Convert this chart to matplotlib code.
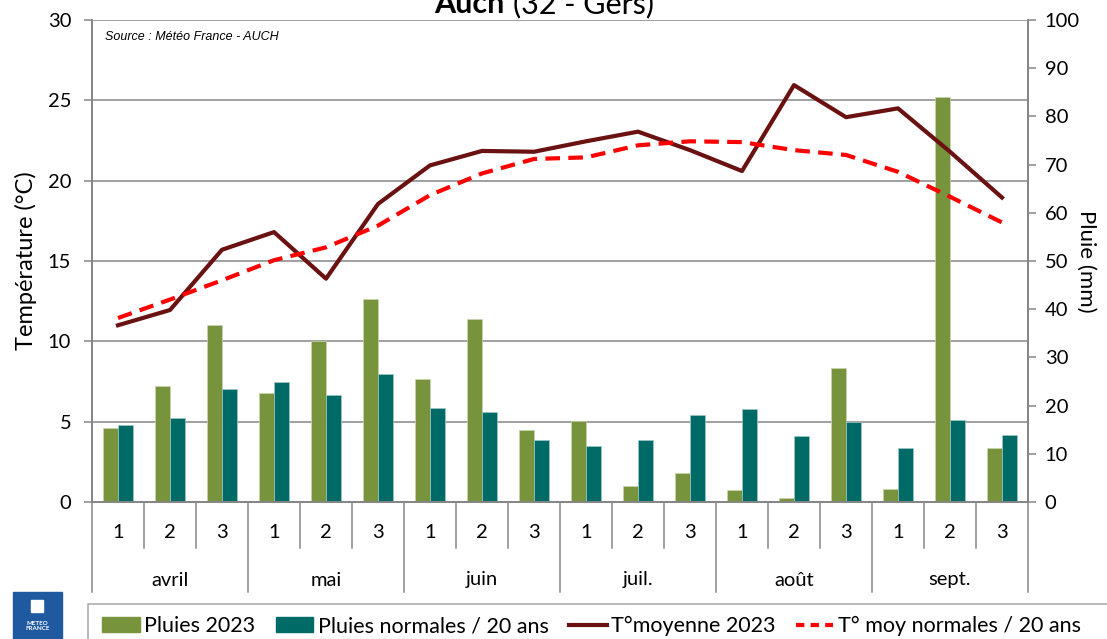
import matplotlib
matplotlib.use("Agg")
import matplotlib.pyplot as plt
import matplotlib.transforms as mtransforms
from matplotlib.patches import Rectangle, Patch
from matplotlib.lines import Line2D
import numpy as np

# decades (1, 2, 3) of each month, avril -> sept.
months = ["avril", "mai", "juin", "juil.", "août", "sept."]
decades = ["1", "2", "3"] * 6

# rain (mm)
rain_2023 = [15.3, 24.0, 36.8, 22.7, 33.4, 42.1, 25.5, 38.0, 14.9,
             16.8, 3.3, 6.1, 2.4, 0.8, 27.7, 2.8, 84.0, 11.1]
rain_norm = [15.9, 17.4, 23.4, 24.8, 22.3, 26.5, 19.4, 18.6, 12.8,
             11.6, 12.8, 18.0, 19.2, 13.7, 16.5, 11.1, 17.1, 13.9]

# mean temperature (°C)
temp_2023 = [11.0, 11.95, 15.7, 16.8, 13.9, 18.55, 20.95, 21.85, 21.8,
             22.45, 23.05, 21.9, 20.6, 25.95, 23.95, 24.5, 21.8, 18.95]
temp_norm = [11.45, 12.6, 13.8, 15.05, 15.85, 17.2, 19.1, 20.45, 21.35,
             21.45, 22.2, 22.45, 22.4, 21.9, 21.6, 20.55, 19.0, 17.4]

GREEN = "#77933C"
TEAL = "#006A66"
DARKRED = "#6A1212"
RED = "#FF0000"
GRID = "#868686"

plt.rcParams["font.family"] = ["Lato", "DejaVu Sans"]

W, H = 1107, 639
fig = plt.figure(figsize=(W / 100, H / 100), dpi=100)
L, R, T, B = 92, 1028, 20, 502
ax = fig.add_axes([L / W, 1 - B / H, (R - L) / W, (B - T) / H])
ax2 = ax.twinx()
ax3 = ax.twinx()

x = np.arange(len(decades))
bw = 0.283

# temperature axis (left) with gridlines
ax.set_ylim(0, 30)
ax.set_yticks(np.arange(0, 31, 5))
ax.set_xlim(-0.5, len(decades) - 0.5)
ax.grid(axis="y", color=GRID, lw=1.1)
ax.set_axisbelow(True)
ax.set_xticks([])
ax.tick_params(axis="y", direction="out", length=6, width=1.1, color=GRID,
               labelsize=14.5, pad=9)
ax.set_ylabel("Température (°C)", fontsize=17, labelpad=8)

# rain axis (right) with bars
ax2.bar(x - bw / 2, rain_2023, bw, color=GREEN, edgecolor="#c9d6b0", lw=0.5)
ax2.bar(x + bw / 2, rain_norm, bw, color=TEAL, edgecolor="#a0c8c6", lw=0.5)
ax2.set_ylim(0, 100)
ax2.set_yticks(np.arange(0, 101, 10))
ax2.tick_params(axis="y", direction="out", length=6, width=1.1, color=GRID,
                labelsize=14.5, pad=6)
ax2.set_ylabel("Pluie (mm)", fontsize=16, rotation=-90, labelpad=12)

# temperature lines on top
ax3.plot(x, temp_2023, color=DARKRED, lw=3)
ax3.plot(x, temp_norm, color=RED, lw=3, dashes=(3.5, 2))
ax3.set_ylim(0, 30)
ax3.set_yticks([])

for a in (ax, ax2, ax3):
    for s in a.spines.values():
        s.set_color(GRID)
        s.set_linewidth(1.1)
    a.spines["top"].set_visible(False)

# two-level category axis
tr = mtransforms.blended_transform_factory(ax.transData, ax.transAxes)
ph = B - T
y_dec = -46 / ph
y_mon = -90 / ph
for i in range(len(decades) + 1):
    end = y_mon if i % 3 == 0 else y_dec
    ax.plot([i - 0.5, i - 0.5], [0, end], color=GRID, lw=1.1,
            transform=tr, clip_on=False)
for i, d in enumerate(decades):
    ax.text(i, -31 / ph, d, transform=tr, ha="center", va="center", fontsize=14.5)
for m, name in enumerate(months):
    ax.text(3 * m + 1, -78 / ph, name, transform=tr, ha="center", va="center",
            fontsize=14.5)

# title (partly outside the canvas, as in the source image)
fig.text(505 / W, 1 - 13 / H, "Auch", fontsize=22, fontweight="bold",
         ha="right", va="baseline")
fig.text(513 / W, 1 - 13 / H, "(32 - Gers)", fontsize=22,
         ha="left", va="baseline")

fig.text(105 / W, 1 - 37 / H, "Source : Météo France - AUCH", fontsize=9,
         style="italic", family="Liberation Sans", va="center")

# legend box
fig.patches.append(Rectangle((88 / W, -0.05), 1.1, (H - 604) / H + 0.05,
                             transform=fig.transFigure, fill=False,
                             edgecolor="#a6a6a6", lw=1.1))
handles = [Patch(color=GREEN), Patch(color=TEAL),
           Line2D([], [], color=DARKRED, lw=3),
           Line2D([], [], color=RED, lw=3, dashes=(2, 1.5))]
labels = ["Pluies 2023", "Pluies normales / 20 ans", "T°moyenne 2023",
          "T° moy normales / 20 ans"]
fig.legend(handles, labels, loc="center left",
           bbox_to_anchor=(102 / W, 1 - 626 / H), ncol=4, frameon=False,
           fontsize=15.5, handlelength=1.75, handleheight=0.65,
           handletextpad=0.2, columnspacing=0.95, borderpad=0, borderaxespad=0)

# Météo-France logo block
fig.patches.append(Rectangle((13 / W, 0), 49 / W, 47 / H,
                             transform=fig.transFigure, color="#1F5AA0"))
fig.patches.append(Rectangle((31 / W, 27 / H), 12 / W, 12 / H,
                             transform=fig.transFigure, color="white"))
fig.text(37.5 / W, 13 / H, "METEO\nFRANCE", color="white", fontsize=4.5,
         fontweight="bold", ha="center", va="center", linespacing=1.0)

fig.savefig("out.png", dpi=100)
